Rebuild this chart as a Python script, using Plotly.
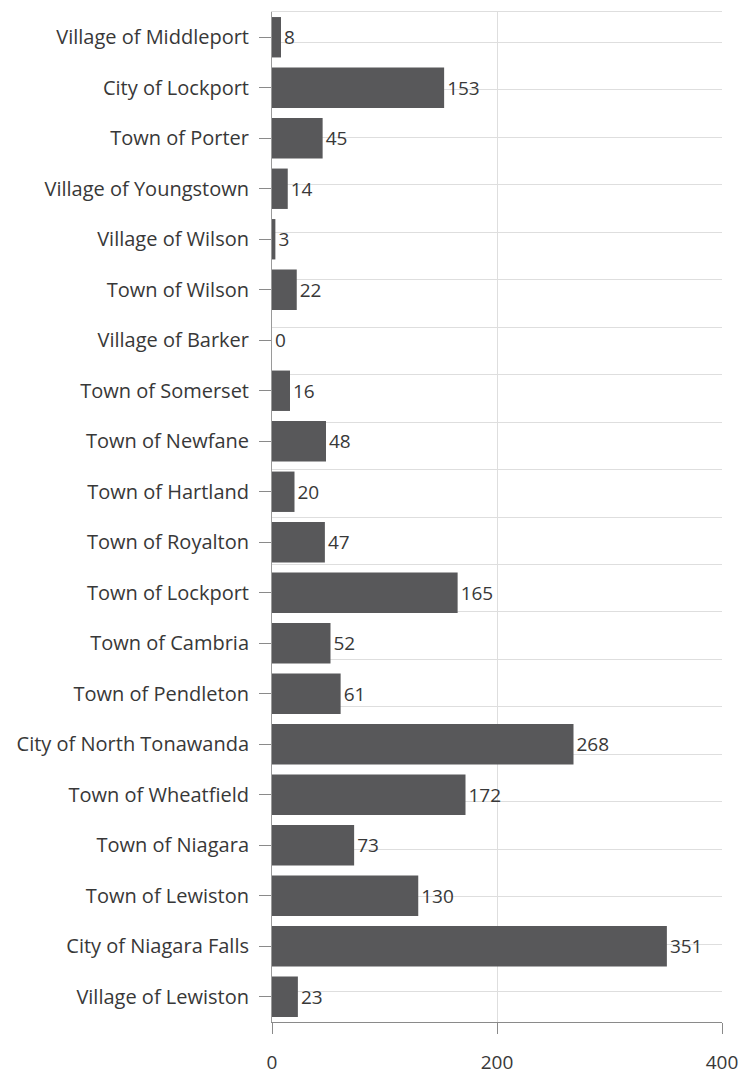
import plotly.graph_objects as go

categories = [
    "Village of Middleport", "City of Lockport", "Town of Porter", "Village of Youngstown",
    "Village of Wilson", "Town of Wilson", "Village of Barker", "Town of Somerset",
    "Town of Newfane", "Town of Hartland", "Town of Royalton", "Town of Lockport",
    "Town of Cambria", "Town of Pendleton", "City of North Tonawanda", "Town of Wheatfield",
    "Town of Niagara", "Town of Lewiston", "City of Niagara Falls", "Village of Lewiston",
]
values = [8, 153, 45, 14, 3, 22, 0, 16, 48, 20, 47, 165, 52, 61, 268, 172, 73, 130, 351, 23]
x_ticks = [0, 200, 400]

FONT = "Open Sans"
TXT = "#383838"
BAR = "#58585a"
GRID = "#dedede"
AXIS = "#8a8a8a"

fig = go.Figure()
fig.add_trace(go.Bar(
    x=values, y=categories, orientation="h",
    marker=dict(color=BAR, line=dict(width=0)),
    text=[str(v) for v in values], textposition="outside",
    textfont=dict(family=FONT, size=19, color=TXT),
    cliponaxis=False, hoverinfo="skip",
))
# invisible trace on overlay axes: category-boundary gridlines and top frame line
fig.add_trace(go.Scatter(
    x=values, y=categories, mode="markers", marker=dict(opacity=0),
    xaxis="x2", yaxis="y2", hoverinfo="skip", showlegend=False,
))

fig.update_layout(
    width=744, height=1074,
    margin=dict(l=272, r=22, t=12, b=52),
    paper_bgcolor="white", plot_bgcolor="white",
    showlegend=False, bargap=0.2,
    font=dict(family=FONT, size=19, color=TXT),
    xaxis=dict(
        range=[0, 400], tickvals=x_ticks, ticktext=[str(t) for t in x_ticks],
        showgrid=True, gridcolor=GRID, gridwidth=1,
        zeroline=False, showline=True, linecolor=AXIS, linewidth=1,
        ticks="outside", ticklen=11, tickcolor=AXIS,
        tickfont=dict(family=FONT, size=19, color=TXT),
        ticklabelstandoff=12, automargin=False, fixedrange=True,
    ),
    xaxis2=dict(
        overlaying="x", side="top", range=[0, 400],
        showgrid=False, showticklabels=False, ticks="",
        showline=True, linecolor=GRID, linewidth=1,
        zeroline=False, automargin=False, fixedrange=True,
    ),
    yaxis=dict(
        categoryorder="array", categoryarray=categories[::-1],
        showgrid=False, ticks="outside", ticklen=12, tickcolor=AXIS,
        showline=True, linecolor="#9a9a9a", linewidth=1,
        tickfont=dict(family=FONT, size=20, color=TXT),
        ticklabelstandoff=6, automargin=False, fixedrange=True,
    ),
    yaxis2=dict(
        overlaying="y", side="left",
        categoryorder="array", categoryarray=categories[::-1],
        tickson="boundaries", showgrid=True, gridcolor=GRID, gridwidth=1,
        showticklabels=False, showline=False, ticks="",
        automargin=False, fixedrange=True,
    ),
)
fig.write_html(
    "out.html",
    config={"displayModeBar": False, "staticPlot": True},
    post_script="document.body.style.margin='0';",
)
